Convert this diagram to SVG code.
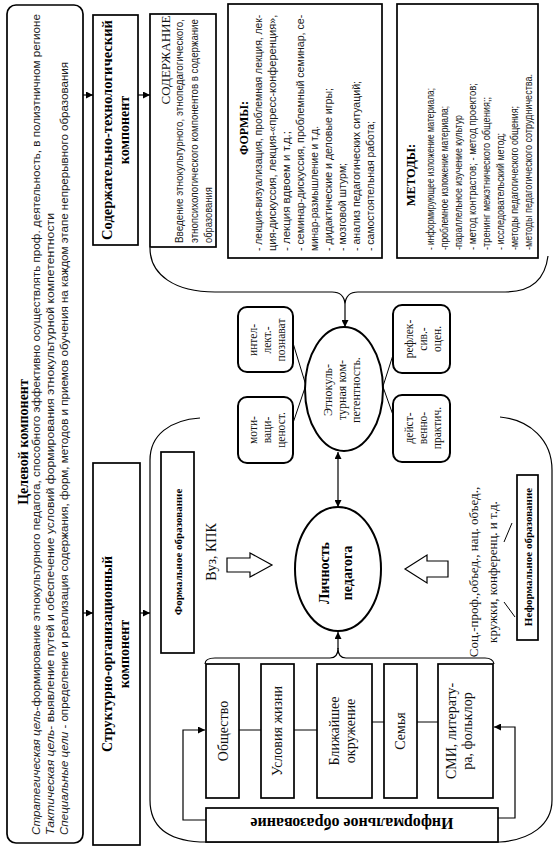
<svg xmlns="http://www.w3.org/2000/svg" width="556" height="851" viewBox="0 0 556 851">
<defs>
<style>
.bx{fill:#fff;stroke:#000;stroke-width:1.7}
.rb{fill:#fff;stroke:#000;stroke-width:2}
.el{fill:#fff;stroke:#000;stroke-width:2}
.ln{fill:none;stroke:#000;stroke-width:1}
.ar{fill:none;stroke:#000;stroke-width:1.2}
.ha{fill:#fff;stroke:#000;stroke-width:1.2}
.s{font-family:"Liberation Sans",Arial,sans-serif;fill:#1a1a1a}
.f{font-family:"Liberation Serif","Times New Roman",serif;fill:#111}
.b{font-weight:bold;fill:#000}
</style>
<marker id="ah" viewBox="0 0 8 8" markerWidth="7" markerHeight="7" refX="8" refY="4" orient="auto-start-reverse" markerUnits="userSpaceOnUse"><path d="M0,0 L8,4 L0,8 z" fill="#000"/></marker>
</defs>
<rect width="556" height="851" fill="#fff"/>

<g id="container">
<path class="ar" d="M200,418 C170,420 150,435 150,460 L150,800 C150,825 165,840 200,842 L500,842 C530,840 552,825 552,800 L552,470 C552,440 530,420 500,417"/>
</g>

<g id="connectors">
<line class="ar" x1="83" y1="95" x2="93" y2="95" marker-end="url(#ah)"/>
<line class="ar" x1="83" y1="613" x2="93" y2="613" marker-end="url(#ah)"/>
<line class="ar" x1="138" y1="95" x2="150" y2="95" marker-end="url(#ah)"/>
<line class="ar" x1="140" y1="613" x2="150" y2="613" marker-end="url(#ah)"/>
<path class="ar" d="M150,248 C150,275 175,292 215,292 L332,292 Q344,292 345,304 Q346,292 358,292 L505,292 C530,292 545,280 548,256"/>
<line class="ar" x1="345" y1="304" x2="345" y2="327" marker-end="url(#ah)"/>
<line class="ln" x1="293" y1="343" x2="311" y2="402"/>
<line class="ln" x1="293" y1="423" x2="311" y2="370"/>
<line class="ln" x1="393" y1="355" x2="377" y2="405"/>
<line class="ln" x1="393" y1="415" x2="377" y2="370"/>
<line class="ar" x1="338" y1="452" x2="338" y2="507" marker-start="url(#ah)" marker-end="url(#ah)"/>
<path class="ar" d="M205,664 Q205,658 215,658 L330,658 Q338,658 338,648 Q338,658 346,658 L485,658 Q493,658 494,664"/>
<line class="ar" x1="338" y1="649" x2="338" y2="632" marker-end="url(#ah)"/>
<line class="ln" x1="239" y1="730" x2="261" y2="730"/>
<line class="ln" x1="294" y1="730" x2="317" y2="730"/>
<line class="ln" x1="372" y1="722" x2="384" y2="722"/>
<line class="ln" x1="417" y1="722" x2="438" y2="722"/>
<path class="ar" d="M206,820 H183 V730 H205" marker-end="url(#ah)"/>
<path class="ar" d="M498,818 H515 V727 H494" marker-end="url(#ah)"/>
<polygon class="ha" points="227,558 250,558 250,553 272,565 250,577 250,572 227,572"/>
<polygon class="ha" points="405,569 427,555 427,561 448,561 448,577 427,577 427,583"/>
<line class="ln" x1="504" y1="542" x2="512" y2="523"/>
<line class="ln" x1="504" y1="602" x2="515" y2="617"/>
</g>

<g id="target">
<rect class="bx" x="7" y="5" width="76" height="838" rx="9"/>
<text class="f b" font-size="14" transform="translate(28,442) rotate(-90)" text-anchor="middle">Целевой компонент</text>
<text class="s" font-size="11.5" transform="translate(40,835) rotate(-90)" textLength="821" lengthAdjust="spacingAndGlyphs"><tspan font-style="italic">Стратегическая цель</tspan>-формирование этнокультурного педагога, способного эффективно осуществлять проф. деятельность, в полиэтничном   регионе</text>
<text class="s" font-size="11.5" transform="translate(54,835) rotate(-90)" textLength="622" lengthAdjust="spacingAndGlyphs"><tspan font-style="italic">Тактическая цель</tspan>- выявление путей и обеспечение условий формирования этнокультурной компетентности</text>
<text class="s" font-size="11.5" transform="translate(68,835) rotate(-90)" textLength="773" lengthAdjust="spacingAndGlyphs"><tspan font-style="italic">Специальные цели</tspan> -  определение и реализация содержания, форм, методов и приемов обучения на каждом этапе непрерывного образования</text>
</g>

<g id="content-component">
<rect class="bx" x="93" y="15" width="45" height="230"/>
<text class="f b" font-size="14" transform="translate(112,130) rotate(-90)" text-anchor="middle" textLength="220" lengthAdjust="spacingAndGlyphs">Содержательно-технологический</text>
<text class="f b" font-size="14" transform="translate(129,130) rotate(-90)" text-anchor="middle">компонент</text>
</g>

<g id="struct-component">
<rect class="bx" x="93" y="463" width="47" height="382"/>
<text class="f b" font-size="14" transform="translate(112,654) rotate(-90)" text-anchor="middle">Структурно-организационный</text>
<text class="f b" font-size="14" transform="translate(129,654) rotate(-90)" text-anchor="middle">компонент</text>
</g>

<g id="content">
<rect class="bx" x="150" y="14" width="66" height="233"/>
<text class="f" font-size="13" transform="translate(170,60) rotate(-90)" text-anchor="middle">СОДЕРЖАНИЕ</text>
<text class="s" font-size="11.5" transform="translate(183,243) rotate(-90) scale(0.82,1)" textLength="273" lengthAdjust="spacingAndGlyphs">Введение этнокультурного, этнопедагогического,</text>
<text class="s" font-size="11.5" transform="translate(198,243) rotate(-90) scale(0.82,1)" textLength="273" lengthAdjust="spacingAndGlyphs">этнопсихологического компонентов в содержание</text>
<text class="s" font-size="11.5" transform="translate(212,243) rotate(-90) scale(0.82,1)" textLength="68" lengthAdjust="spacingAndGlyphs">образования</text>
</g>

<g id="forms">
<rect class="bx" x="228" y="4" width="154" height="254"/>
<text class="f b" font-size="12" transform="translate(248,128) rotate(-90)" text-anchor="middle">ФОРМЫ:</text>
<text class="s" font-size="11.5" transform="translate(262,251) rotate(-90) scale(0.85,1)" textLength="278" lengthAdjust="spacingAndGlyphs">- лекция-визуализация, проблемная лекция, лек-</text>
<text class="s" font-size="11.5" transform="translate(276,251) rotate(-90) scale(0.85,1)" textLength="278" lengthAdjust="spacingAndGlyphs">ция-дискуссия, лекция-«пресс-конференция»,</text>
<text class="s" font-size="11.5" transform="translate(290,251) rotate(-90)" textLength="120" lengthAdjust="spacingAndGlyphs">- лекция вдвоем и т.д.;</text>
<text class="s" font-size="11.5" transform="translate(304,251) rotate(-90) scale(0.85,1)" textLength="278" lengthAdjust="spacingAndGlyphs">- семинар-дискуссия, проблемный семинар, се-</text>
<text class="s" font-size="11.5" transform="translate(318,251) rotate(-90)" textLength="125" lengthAdjust="spacingAndGlyphs">минар-размышление и т.д.</text>
<text class="s" font-size="11.5" transform="translate(332,251) rotate(-90)" textLength="163" lengthAdjust="spacingAndGlyphs">- дидактические  и  деловые игры;</text>
<text class="s" font-size="11.5" transform="translate(346,251) rotate(-90)" textLength="88" lengthAdjust="spacingAndGlyphs">- мозговой штурм;</text>
<text class="s" font-size="11.5" transform="translate(360,251) rotate(-90)" textLength="170" lengthAdjust="spacingAndGlyphs">- анализ педагогических ситуаций;</text>
<text class="s" font-size="11.5" transform="translate(374,251) rotate(-90)" textLength="130" lengthAdjust="spacingAndGlyphs">- самостоятельная работа;</text>
</g>

<g id="methods">
<rect class="bx" x="397" y="4" width="141" height="254"/>
<text class="f b" font-size="12.5" transform="translate(415,175) rotate(-90)" text-anchor="middle">МЕТОДЫ:</text>
<text class="s" font-size="10.5" transform="translate(434,250) rotate(-90)" textLength="162" lengthAdjust="spacingAndGlyphs">- информирующее изложение материала;</text>
<text class="s" font-size="10.5" transform="translate(448,250) rotate(-90)" textLength="144" lengthAdjust="spacingAndGlyphs">-проблемное изложение материала;</text>
<text class="s" font-size="10.5" transform="translate(462,250) rotate(-90)" textLength="135" lengthAdjust="spacingAndGlyphs">-параллельное изучение культур</text>
<text class="s" font-size="10.5" transform="translate(476,250) rotate(-90)" textLength="167" lengthAdjust="spacingAndGlyphs">- метод контрастов; - метод проектов;</text>
<text class="s" font-size="10.5" transform="translate(490,250) rotate(-90)" textLength="153" lengthAdjust="spacingAndGlyphs">-тренинг межэтнического общения;;</text>
<text class="s" font-size="10.5" transform="translate(504,250) rotate(-90)" textLength="117" lengthAdjust="spacingAndGlyphs">- исследовательский метод;</text>
<text class="s" font-size="10.5" transform="translate(518,250) rotate(-90)" textLength="144" lengthAdjust="spacingAndGlyphs">-методы педагогического общения;</text>
<text class="s" font-size="10.5" transform="translate(532,250) rotate(-90)" textLength="176" lengthAdjust="spacingAndGlyphs">-методы педагогического сотрудничества.</text>
</g>

<g id="intel">
<rect class="rb" x="238" y="307" width="55" height="65" rx="9"/>
<text class="f" font-size="11.5" transform="translate(257,340) rotate(-90)" text-anchor="middle">интел-</text>
<text class="f" font-size="11.5" transform="translate(271,340) rotate(-90)" text-anchor="middle">лект.-</text>
<text class="f" font-size="11.5" transform="translate(285,340) rotate(-90)" text-anchor="middle">познават</text>
</g>
<g id="motiv">
<rect class="rb" x="238" y="397" width="55" height="66" rx="9"/>
<text class="f" font-size="11.5" transform="translate(257,430) rotate(-90)" text-anchor="middle">моти-</text>
<text class="f" font-size="11.5" transform="translate(271,430) rotate(-90)" text-anchor="middle">ваци-</text>
<text class="f" font-size="11.5" transform="translate(285,430) rotate(-90)" text-anchor="middle">ценост.</text>
</g>
<g id="reflex">
<rect class="rb" x="393" y="305" width="57" height="68" rx="9"/>
<text class="f" font-size="11.5" transform="translate(413,339) rotate(-90)" text-anchor="middle">рефлек-</text>
<text class="f" font-size="11.5" transform="translate(427,339) rotate(-90)" text-anchor="middle">сив.-</text>
<text class="f" font-size="11.5" transform="translate(441,339) rotate(-90)" text-anchor="middle">оцен.</text>
</g>
<g id="action">
<rect class="rb" x="393" y="395" width="57" height="67" rx="9"/>
<text class="f" font-size="11.5" transform="translate(413,428) rotate(-90)" text-anchor="middle">дейст-</text>
<text class="f" font-size="11.5" transform="translate(427,428) rotate(-90)" text-anchor="middle">венно-</text>
<text class="f" font-size="11.5" transform="translate(441,428) rotate(-90)" text-anchor="middle">практич.</text>
</g>

<g id="ethno">
<ellipse class="el" cx="344" cy="389" rx="39" ry="62"/>
<text class="f" font-size="12" transform="translate(332,390) rotate(-90)" text-anchor="middle">Этнокуль-</text>
<text class="f" font-size="12" transform="translate(346,390) rotate(-90)" text-anchor="middle">турная ком-</text>
<text class="f" font-size="12" transform="translate(360,390) rotate(-90)" text-anchor="middle">петентность.</text>
</g>

<g id="personality">
<ellipse class="el" cx="338" cy="569" rx="43" ry="62"/>
<text class="f b" font-size="14" transform="translate(329,573) rotate(-90)" text-anchor="middle">Личность</text>
<text class="f b" font-size="14" transform="translate(352,573) rotate(-90)" text-anchor="middle">педагога</text>
</g>

<g id="formal">
<rect class="bx" x="161" y="452" width="33" height="201"/>
<text class="f b" font-size="11" transform="translate(182,552) rotate(-90)" text-anchor="middle">Формальное образование</text>
<text class="f" font-size="14" transform="translate(216,552) rotate(-90)" text-anchor="middle">Вуз, КПК</text>
</g>

<g id="nonformal">
<rect class="bx" x="517" y="475" width="21" height="165"/>
<text class="f b" font-size="11" transform="translate(532,557) rotate(-90)" text-anchor="middle">Неформальное образование</text>
<text class="f" font-size="13" transform="translate(478,572) rotate(-90)" text-anchor="middle">Соц.-проф.,объед., нац. объед.,</text>
<text class="f" font-size="13" transform="translate(497,572) rotate(-90)" text-anchor="middle">кружки, конференц. и т.д.</text>
</g>

<g id="society">
<rect class="bx" x="206" y="664" width="33" height="134"/>
<text class="f" font-size="14" transform="translate(228,731) rotate(-90)" text-anchor="middle">Общество</text>
</g>
<g id="living">
<rect class="bx" x="261" y="664" width="33" height="134"/>
<text class="f" font-size="14" transform="translate(282,731) rotate(-90)" text-anchor="middle">Условия жизни</text>
</g>
<g id="environment">
<rect class="bx" x="317" y="664" width="55" height="134"/>
<text class="f" font-size="14" transform="translate(339,731) rotate(-90)" text-anchor="middle">Ближайшее</text>
<text class="f" font-size="14" transform="translate(355,731) rotate(-90)" text-anchor="middle">окружение</text>
</g>
<g id="family">
<rect class="bx" x="384" y="664" width="33" height="134"/>
<text class="f" font-size="14" transform="translate(405,731) rotate(-90)" text-anchor="middle">Семья</text>
</g>
<g id="media">
<rect class="bx" x="438" y="664" width="55" height="134"/>
<text class="f" font-size="14" transform="translate(456,731) rotate(-90)" text-anchor="middle">СМИ, литерату-</text>
<text class="f" font-size="14" transform="translate(472,731) rotate(-90)" text-anchor="middle">ра, фольклор</text>
</g>

<g id="informal">
<rect class="bx" x="206" y="808" width="292" height="34"/>
<text class="f b" font-size="16" transform="translate(352,818) rotate(180)" text-anchor="middle">Информальное образование</text>
</g>
</svg>
